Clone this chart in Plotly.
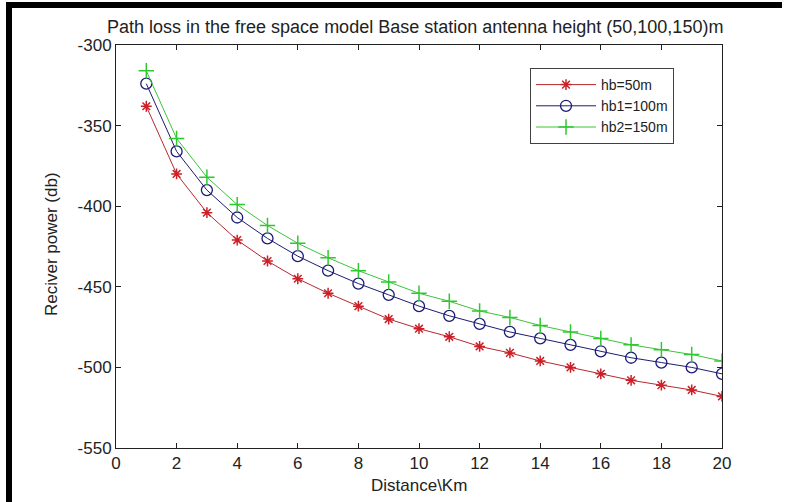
import plotly.graph_objects as go

distance_km = list(range(1, 21))
hb_50 = [-338, -380, -404, -421, -434, -445, -454, -462, -470, -476,
         -481, -487, -491, -496, -500, -504, -508, -511, -514, -518]
hb1_100 = [-324, -366, -390, -407, -420, -431, -440, -448, -455, -462,
           -468, -473, -478, -482, -486, -490, -494, -497, -500, -504]
hb2_150 = [-316, -358, -382, -399, -412, -423, -432, -440, -447, -454,
           -459, -465, -469, -474, -478, -482, -486, -489, -492, -496]
x_ticks = [0, 2, 4, 6, 8, 10, 12, 14, 16, 18, 20]
y_ticks = [-300, -350, -400, -450, -500, -550]
y_tick_text = ["-300", "-350", "-400", "-450", "-500", "-550"]

W, H = 786, 502
L, R, T, B = 116, 64, 45, 54
pw, ph = W - L - R, H - T - B

def px(x):
    return (x - L) / pw

def py(y):
    return 1 - (y - T) / ph

FONT = "Arial, Liberation Sans, sans-serif"
TXT = "#222222"

fig = go.Figure()
fig.add_trace(go.Scatter(x=distance_km, y=hb_50, name="hb=50m", mode="lines+markers",
                         line=dict(color="#b8282e", width=1),
                         marker=dict(symbol="asterisk", size=9, color="#cc2028",
                                     line=dict(color="#cc2028", width=1.5))))
fig.add_trace(go.Scatter(x=distance_km, y=hb1_100, name="hb1=100m", mode="lines+markers",
                         line=dict(color="#1c1c70", width=1),
                         marker=dict(symbol="circle-open", size=11, color="#1c1c78",
                                     line=dict(color="#1c1c78", width=1.3))))
fig.add_trace(go.Scatter(x=distance_km, y=hb2_150, name="hb2=150m", mode="lines+markers",
                         line=dict(color="#3cc43c", width=1),
                         marker=dict(symbol="cross-thin", size=11, color="#30c830",
                                     line=dict(color="#30c830", width=1.5))))

axis_common = dict(showgrid=False, zeroline=False, showline=True, linecolor="#202020",
                   linewidth=1, mirror="ticks", ticks="inside", ticklen=5,
                   tickcolor="#202020", tickfont=dict(family=FONT, size=17, color=TXT))

fig.update_xaxes(range=[0, 20], tickvals=x_ticks, ticktext=[str(v) for v in x_ticks],
                 **axis_common)
fig.update_yaxes(range=[-550, -300], tickvals=y_ticks, ticktext=y_tick_text, **axis_common)

shapes = [
    dict(type="rect", xref="paper", yref="paper", x0=px(6), x1=px(12), y0=py(H), y1=py(2),
         fillcolor="black", line=dict(width=0), layer="above"),
    dict(type="rect", xref="paper", yref="paper", x0=px(6), x1=px(782), y0=py(8), y1=py(2),
         fillcolor="black", line=dict(width=0), layer="above"),
]

annotations = [
    dict(text="Path loss in the free space model Base station antenna height (50,100,150)m",
         xref="paper", yref="paper", x=px(415), y=py(27), xanchor="center", yanchor="middle",
         showarrow=False, font=dict(family=FONT, size=18, color=TXT)),
    dict(text="Distance\\Km", xref="paper", yref="paper", x=px(419), y=py(485),
         xanchor="center", yanchor="middle", showarrow=False,
         font=dict(family=FONT, size=17, color=TXT)),
    dict(text="Reciver power (db)", xref="paper", yref="paper", x=px(51), y=py(244),
         xanchor="center", yanchor="middle", showarrow=False, textangle=-90,
         font=dict(family=FONT, size=17, color=TXT)),
]

fig.update_layout(
    width=W, height=H,
    margin=dict(l=L, r=R, t=T, b=B),
    paper_bgcolor="white", plot_bgcolor="white",
    showlegend=True,
    legend=dict(x=px(530), y=py(68), xanchor="left", yanchor="top",
                bgcolor="white", bordercolor="#404040", borderwidth=1,
                font=dict(family=FONT, size=14, color=TXT),
                itemwidth=60, tracegroupgap=0),
    shapes=shapes,
    annotations=annotations,
)

fig.write_html("out.html")
